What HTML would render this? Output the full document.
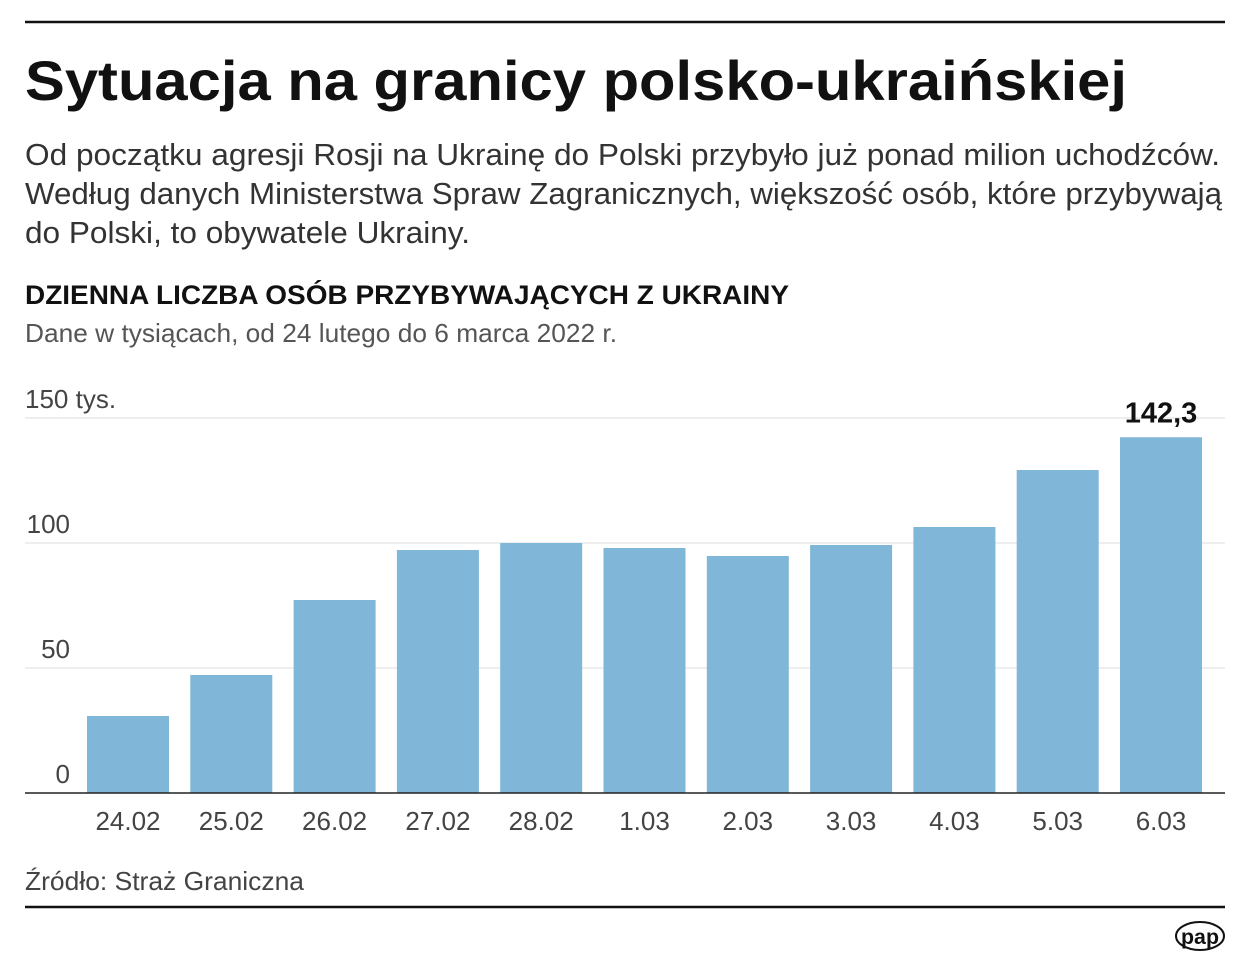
<!DOCTYPE html>
<html><head><meta charset="utf-8"><style>
html,body{margin:0;padding:0;background:#fff;}
svg{display:block;font-family:"Liberation Sans",sans-serif;}
</style></head><body>
<svg id="chart" width="1250" height="975" viewBox="0 0 1250 975">
<rect width="1250" height="975" fill="#fff"/>
<line x1="25" y1="22" x2="1225" y2="22" stroke="#111" stroke-width="2.5"/>
<text x="25" y="100" font-size="56" font-weight="bold" fill="#111" textLength="1102" lengthAdjust="spacingAndGlyphs">Sytuacja na granicy polsko-ukraińskiej</text>
<g fill="#333" font-size="31">
<text x="25" y="165" textLength="1195" lengthAdjust="spacingAndGlyphs">Od początku agresji Rosji na Ukrainę do Polski przybyło już ponad milion uchodźców.</text>
<text x="25" y="204" textLength="1197" lengthAdjust="spacingAndGlyphs">Według danych Ministerstwa Spraw Zagranicznych, większość osób, które przybywają</text>
<text x="25" y="243" textLength="445" lengthAdjust="spacingAndGlyphs">do Polski, to obywatele Ukrainy.</text>
</g>
<text x="25" y="304" font-size="27" font-weight="bold" fill="#111" textLength="764" lengthAdjust="spacingAndGlyphs">DZIENNA LICZBA OSÓB PRZYBYWAJĄCYCH Z UKRAINY</text>
<text x="25" y="342" font-size="26" fill="#555" textLength="592" lengthAdjust="spacingAndGlyphs">Dane w tysiącach, od 24 lutego do 6 marca 2022 r.</text>
<g id="grid"></g>
<g id="bars"></g>
<g id="xlabels"></g>
<line x1="25" y1="793" x2="1225" y2="793" stroke="#222" stroke-width="1.5"/>
<text x="25" y="890" font-size="26" fill="#444" textLength="279" lengthAdjust="spacingAndGlyphs">Źródło: Straż Graniczna</text>
<line x1="25" y1="907" x2="1225" y2="907" stroke="#111" stroke-width="2.5"/>
<g>
<ellipse cx="1200" cy="936" rx="24" ry="14" fill="#fff" stroke="#111" stroke-width="2"/>
<text x="1200" y="944" font-size="21" font-weight="bold" text-anchor="middle" fill="#111" textLength="38" lengthAdjust="spacingAndGlyphs">pap</text>
</g>
</svg>
<script>
const categories=["24.02","25.02","26.02","27.02","28.02","1.03","2.03","3.03","4.03","5.03","6.03"];
const values=[30.8,47.2,77.2,97.2,100,98,94.8,99.2,106.4,129.2,142.3];
const yTicks=[0,50,100,150];
const yTickLabels=["0","50","100","150 tys."];
const highlightLabel="142,3";
const NS="http://www.w3.org/2000/svg";
const y0=793,pxPer=2.5;
function yScale(v){return y0-v*pxPer;}
const step=103.3,x0=87,bw=82;
function xScale(i){return x0+i*step;}
function mk(tag,attrs,parent){const e=document.createElementNS(NS,tag);for(const k in attrs)e.setAttribute(k,attrs[k]);parent.appendChild(e);return e;}
const grid=document.getElementById('grid');
yTicks.forEach((t,i)=>{
  const y=yScale(t);
  if(t>0){const l=mk('line',{x1:25,x2:1225,y1:y,y2:y,stroke:'#ddd','stroke-width':1},grid);
  
  }
  const isTop=i===yTicks.length-1;
  const tx=mk('text',{x:isTop?25:70,y:y-10,'font-size':26,fill:'#444','text-anchor':isTop?'start':'end'},grid);
  tx.textContent=yTickLabels[i];
  
  
});
const bars=document.getElementById('bars'),xl=document.getElementById('xlabels');
values.forEach((v,i)=>{
  const x=xScale(i);
  const r=mk('rect',{x:x,y:yScale(v),width:bw,height:v*pxPer,fill:'#80b6d7'},bars);
  
  
  const t=mk('text',{x:x+bw/2,y:830,'font-size':26,fill:'#444','text-anchor':'middle'},xl);
  t.textContent=categories[i];
  
  
  if(i===values.length-1){
    const vl=mk('text',{x:x+bw/2,y:yScale(v)-15,'font-size':29,'font-weight':'bold',fill:'#111','text-anchor':'middle'},bars);
    vl.textContent=highlightLabel;
    
    
  }
});
</script>
</body></html>
